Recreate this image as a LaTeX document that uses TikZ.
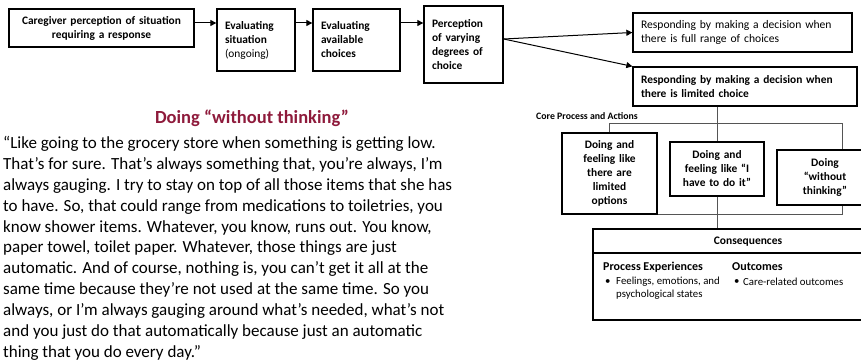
\documentclass[tikz,border=0pt]{standalone}
\usepackage{fontspec}
\setmainfont{Carlito}
\usepackage{tikz}
\usetikzlibrary{arrows.meta,positioning}
\definecolor{maroon}{HTML}{8E1A3B}
\definecolor{spine}{HTML}{555555}
\tikzset{
  box/.style={draw=black, line width=1.3pt, inner xsep=8pt, inner ysep=2pt,
    font=\bfseries\fontsize{11.4}{14}\selectfont},
  plainbox/.style={box, font=\fontsize{11.6}{14}\selectfont},
  flow/.style={-{Triangle[length=6pt,width=6pt]}, line width=1pt},
  link/.style={draw=spine, line width=1pt},
  lbl/.style={inner sep=0pt, font=\bfseries\fontsize{11.5}{13}\selectfont},
  small/.style={inner sep=0pt, font=\fontsize{10.8}{13.4}\selectfont}
}

\begin{document}
\begin{tikzpicture}[x=1pt,y=-1pt]
  \useasboundingbox (0,0) rectangle (861,361);
  \clip (0,0) rectangle (861,361);

  % top row
  \node[box, minimum width=185pt, minimum height=38pt, text width=169pt, align=center]
    (percv) at (101.5,28) {Caregiver perception of situation\\requiring a response};
  \node[box, minimum width=78pt, minimum height=62pt, text width=62pt, align=left]
    (evsit) at (256,40) {Evaluating\\situation\\\mdseries(ongoing)};
  \node[box, minimum width=87pt, minimum height=62pt, text width=71pt, align=left]
    (evch) at (356.5,40) {Evaluating\\available\\choices};
  \node[box, minimum width=79pt, minimum height=77pt, text width=63pt, align=left]
    (degr) at (463.5,44.5) {Perception\\of varying\\degrees of\\choice};

  \coordinate (row) at (0,23);
  \draw[flow] (percv.east |- row) -- (evsit.west |- row);
  \draw[flow] (evsit.east |- row) -- (evch.west |- row);
  \draw[flow] (evch.east |- row) -- (degr.west |- row);

  % two ways of responding
  \node[plainbox, minimum width=219pt, minimum height=39pt, text width=203pt, align=left]
    (full) at (742.5,32.5) {Responding by making a decision when\\there is full range of choices};
  \node[box, minimum width=224pt, minimum height=39pt, text width=208pt, align=left]
    (lim) at (745,86.5) {Responding by making a decision when\\there is limited choice};

  \coordinate (fork) at ([yshift=5.5pt]degr.east);
  \draw[flow] (fork) -- (full.west);
  \draw[flow] (fork) -- (lim.north west);

  % core process
  \node[lbl, anchor=west, font=\bfseries\fontsize{9.8}{12}\selectfont]
    (corelbl) at (536,116) {Core Process and Actions};
  \node[box, minimum width=95pt, minimum height=81pt, text width=79pt, align=center]
    (limopt) at (609.5,173.5) {Doing and\\feeling like\\there are\\limited\\options};
  \node[box, minimum width=94pt, minimum height=54pt, text width=78pt, align=center]
    (haveto) at (717,169) {Doing and\\feeling like “I\\have to do it”};
  \node[box, minimum width=96pt, minimum height=55pt, text width=80pt, align=center]
    (nothink) at (825,177.5) {Doing\\“without\\thinking”};

  \coordinate (brk) at (842,123);
  \draw[link] (limopt.north) |- (brk) -- (brk |- nothink.north);
  \draw[link] (limopt.south east) -| (nothink.south -| brk);

  % consequences
  \node[draw=black, line width=1.3pt, minimum width=310pt, minimum height=91pt]
    (cons) at (748,274.5) {};
  \draw[line width=1.6pt] (cons.west |- 0,253) -- (cons.east |- 0,253);
  \node[lbl] (conslbl) at (748,242) {Consequences};
  \node[lbl, anchor=west, font=\bfseries\fontsize{12}{14}\selectfont]
    (procexp) at (603,267) {Process Experiences};
  \node[lbl, anchor=west, font=\bfseries\fontsize{12}{14}\selectfont]
    (outc) at (732,267) {Outcomes};
  \node[small, anchor=west] (bula) at (605,282) {•};
  \node[small, anchor=north west, align=left] (feel) at (616,276.5) {Feelings, emotions, and\\psychological states};
  \node[small, anchor=west] (bulb) at (734,282) {•};
  \node[small, anchor=west] (care) at (743,282) {Care-related outcomes};

  \draw[link] (haveto.north |- lim.south) -- (haveto.north);
  \draw[link] (haveto.south) -- (haveto.south |- cons.north);

  % quotation
  \node[inner sep=0pt, text=maroon, font=\bfseries\fontsize{18.5}{22}\selectfont]
    (qtitle) at (252,118) {Doing “without thinking”};
  \node[inner sep=0pt, anchor=north west, align=left, font=\fontsize{17}{20.9}\selectfont]
    (quote) at (3,136) {“Like going to the grocery store when something is getting low.\\
    That’s for sure. That’s always something that, you’re always, I’m\\
    always gauging. I try to stay on top of all those items that she has\\
    to have. So, that could range from medications to toiletries, you\\
    know shower items. Whatever, you know, runs out. You know,\\
    paper towel, toilet paper. Whatever, those things are just\\
    automatic. And of course, nothing is, you can’t get it all at the\\
    same time because they’re not used at the same time. So you\\
    always, or I’m always gauging around what’s needed, what’s not\\
    and you just do that automatically because just an automatic\\
    thing that you do every day.”};
\end{tikzpicture}
\end{document}
